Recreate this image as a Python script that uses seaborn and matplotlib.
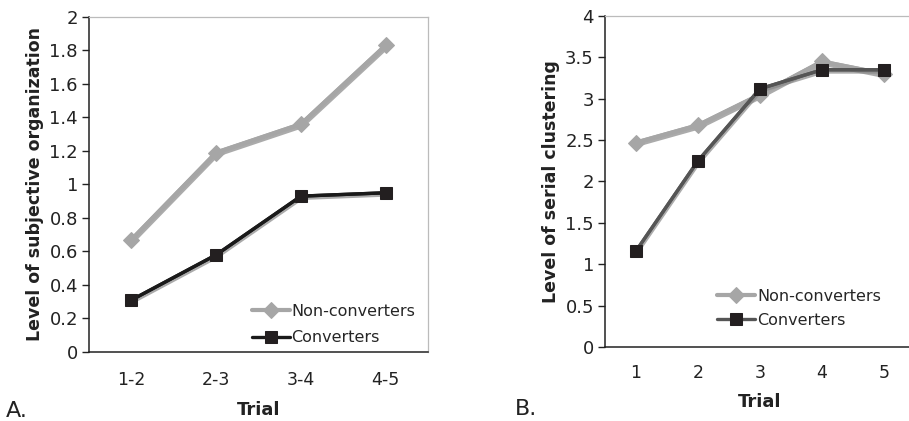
import numpy as np
import pandas as pd
import matplotlib
matplotlib.use("Agg")
import matplotlib.pyplot as plt
import matplotlib.patheffects as pe
import seaborn as sns

# Panel A data
trials_a = ["1-2", "2-3", "3-4", "4-5"]
nonconv_a = [0.67, 1.19, 1.36, 1.83]
conv_a = [0.31, 0.58, 0.93, 0.95]

# Panel B data
trials_b = ["1", "2", "3", "4", "5"]
nonconv_b = [2.47, 2.68, 3.05, 3.45, 3.30]
conv_b = [1.16, 2.25, 3.12, 3.35, 3.35]

sns.set_style("white")
plt.rcParams["font.family"] = ["DejaVu Sans"]

fig = plt.figure(figsize=(9.09, 4.21), dpi=100)
axA = fig.add_axes([0.098, 0.164, 0.373, 0.796])
axB = fig.add_axes([0.6656, 0.176, 0.341, 0.786])

shadow = [pe.SimpleLineShadow(offset=(0.6, -1.6), shadow_color="#888888", alpha=0.7), pe.Normal()]


def series(ax, x, y, label, line_color, lw, marker, ms, mcolor):
    d = pd.DataFrame({"x": x, "y": y})
    # line with soft drop shadow
    sns.lineplot(data=d, x="x", y="y", ax=ax, color=line_color, lw=lw,
                 path_effects=shadow, legend=False)
    # markers on top
    sns.lineplot(data=d, x="x", y="y", ax=ax, color=line_color, lw=lw,
                 marker=marker, markersize=ms, markerfacecolor=mcolor,
                 markeredgecolor=mcolor, label=label)


def panel(ax, trials, nonconv, conv, conv_line, ylim, yticks, ylabel, xpad):
    x = np.arange(len(trials))
    series(ax, x, nonconv, "Non-converters", "#a6a6a6", 3.0, "D", 8, "#a6a6a6")
    series(ax, x, conv, "Converters", conv_line, 2.4, "s", 9, "#231f20")
    ax.set_xlim(-0.5, len(x) - 0.5)
    ax.set_ylim(*ylim)
    ax.set_yticks(yticks)
    ax.set_yticklabels([f"{t:g}" for t in yticks])
    ax.set_xticks(x)
    ax.set_xticklabels(trials)
    ax.set_xticks(np.arange(len(x) + 1) - 0.5, minor=True)
    ax.tick_params(axis="x", which="major", length=0, pad=xpad, labelsize=12.5, colors="#222222")
    ax.tick_params(axis="x", which="minor", length=5, width=1, direction="out", color="#222222")
    ax.tick_params(axis="y", length=5, width=1, direction="out", labelsize=13,
                   colors="#222222", pad=3, left=True)
    for s in ["left", "bottom"]:
        ax.spines[s].set_color("#222222")
        ax.spines[s].set_linewidth(1.1)
    for s in ["top", "right"]:
        ax.spines[s].set_color("#bbbbbb")
        ax.spines[s].set_linewidth(0.9)
    ax.set_ylabel(ylabel, fontsize=12.5, fontweight="bold", color="#222222", labelpad=4)
    ax.set_xlabel("Trial", fontsize=13, fontweight="bold", color="#222222", labelpad=8)
    return ax


panel(axA, trials_a, nonconv_a, conv_a, "#1a1a1a", (0, 2),
      np.round(np.arange(0, 2.01, 0.2), 1), "Level of subjective organization", 14)
panel(axB, trials_b, nonconv_b, conv_b, "#555555", (0, 4),
      np.arange(0, 4.01, 0.5), "Level of serial clustering", 12)

axA.legend(loc="lower right", bbox_to_anchor=(1.0, -0.018), frameon=False, fontsize=11.5,
           handlelength=2.4, handletextpad=0.1, labelspacing=0.7, borderaxespad=0.4)
axB.legend(loc="lower left", bbox_to_anchor=(0.32, 0.02), frameon=False, fontsize=11.5,
           handlelength=2.4, handletextpad=0.1, labelspacing=0.55, borderaxespad=0.4)

fig.text(0.006, 0.01, "A.", fontsize=16, color="#222222")
fig.text(0.566, 0.015, "B.", fontsize=16, color="#222222")

fig.savefig("out.png", dpi=100)
